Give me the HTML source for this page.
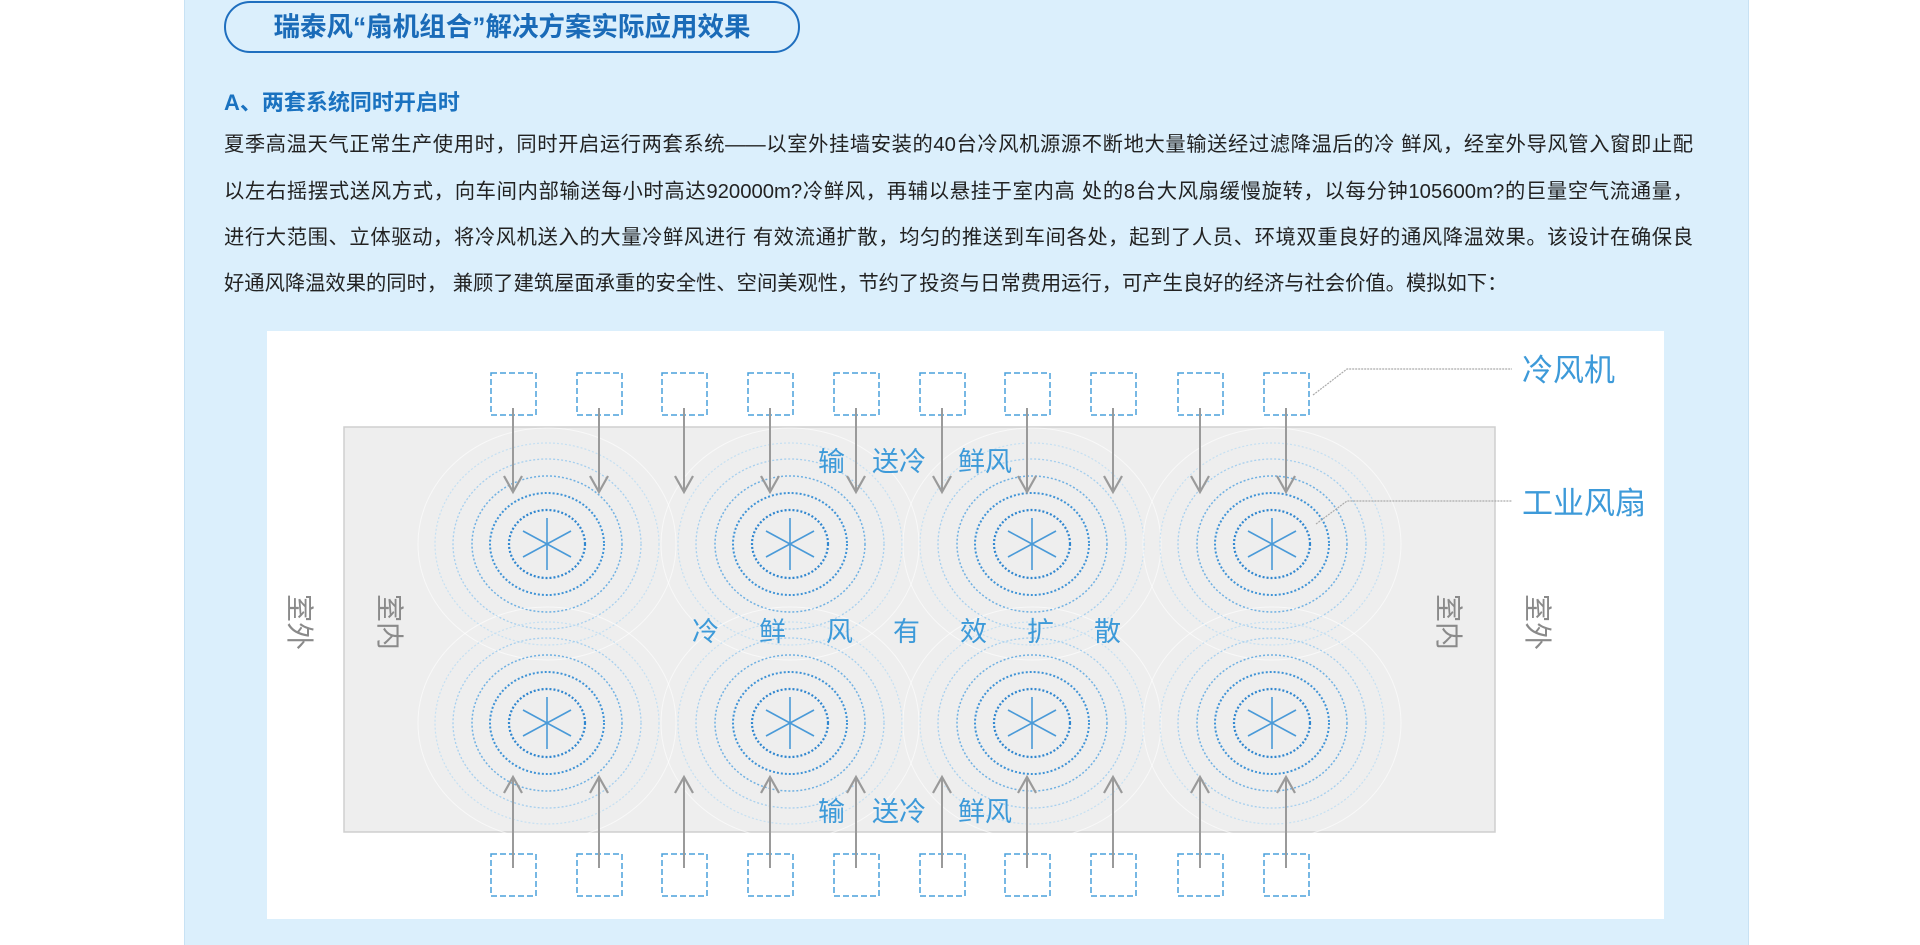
<!DOCTYPE html>
<html><head><meta charset="utf-8">
<style>
html,body{margin:0;padding:0;background:#fff;}
body{width:1920px;height:945px;position:relative;overflow:hidden;font-family:"Liberation Sans","Noto Sans CJK SC",sans-serif;}
.panel{position:absolute;left:184px;top:0;width:1563px;height:945px;background:#dbeffc;border-left:1px solid #c8e2f4;border-right:1px solid #c8e2f4;}
.pill{position:absolute;left:224px;top:1px;width:572px;height:48px;border:2px solid #1f6fbf;border-radius:26px;color:#1a6bb8;font-weight:bold;font-size:26.5px;line-height:48px;text-align:center;}
.h{position:absolute;left:224px;top:85px;color:#1a72c0;font-weight:bold;font-size:22px;}
.p{position:absolute;left:224px;width:1469px;font-size:20.3px;color:#222;white-space:nowrap;text-align:justify;text-align-last:justify;line-height:24px;}
svg{position:absolute;left:0;top:0;}
</style></head><body>
<div class="panel"></div>
<div class="pill">瑞泰风“扇机组合”解决方案实际应用效果</div>
<div class="h">A、两套系统同时开启时</div>
<div class="p" style="top:133px">夏季高温天气正常生产使用时，同时开启运行两套系统——以室外挂墙安装的40台冷风机源源不断地大量输送经过滤降温后的冷 鲜风，经室外导风管入窗即止配</div>
<div class="p" style="top:180px">以左右摇摆式送风方式，向车间内部输送每小时高达920000m?冷鲜风，再辅以悬挂于室内高 处的8台大风扇缓慢旋转，以每分钟105600m?的巨量空气流通量，</div>
<div class="p" style="top:226px">进行大范围、立体驱动，将冷风机送入的大量冷鲜风进行 有效流通扩散，均匀的推送到车间各处，起到了人员、环境双重良好的通风降温效果。该设计在确保良</div>
<div class="p" style="top:272px;width:auto;text-align:left;text-align-last:left">好通风降温效果的同时， 兼顾了建筑屋面承重的安全性、空间美观性，节约了投资与日常费用运行，可产生良好的经济与社会价值。模拟如下：</div>

<svg width="1920" height="945" viewBox="0 0 1920 945">
<defs>
<g id="fan">
  <ellipse rx="129" ry="116" fill="none" stroke="#ffffff" stroke-opacity="0.6" stroke-width="1"/>
  <ellipse rx="112" ry="101" fill="none" stroke="#c6e0f2" stroke-width="1.2" stroke-dasharray="2 2"/>
  <ellipse rx="94" ry="85" fill="none" stroke="#a6cfee" stroke-width="1.3" stroke-dasharray="2 2"/>
  <ellipse rx="75" ry="68" fill="none" stroke="#6fb0e2" stroke-width="1.5" stroke-dasharray="2 2"/>
  <ellipse rx="57" ry="51" fill="none" stroke="#3f93d6" stroke-width="2" stroke-dasharray="2 2"/>
  <ellipse rx="38" ry="34" fill="none" stroke="#2f86cf" stroke-width="2.2" stroke-dasharray="2 2"/>
  <g stroke="#4a9ad8" stroke-width="1.6">
    <line x1="0" y1="-26" x2="0" y2="26"/>
    <line x1="-24" y1="-13" x2="24" y2="13"/>
    <line x1="-24" y1="13" x2="24" y2="-13"/>
  </g>
</g>
<rect id="box" x="-22" y="0" width="45" height="42" fill="none" stroke="#4aa0dc" stroke-width="1.5" stroke-dasharray="6 3"/>
<g id="down"><line x1="0" y1="408" x2="0" y2="490" stroke="#9a9a9a" stroke-width="2"/><polyline points="-9,476 0,492 9,476" fill="none" stroke="#9a9a9a" stroke-width="2.2"/></g>
<g id="up"><line x1="0" y1="868" x2="0" y2="779" stroke="#9a9a9a" stroke-width="2"/><polyline points="-9,793 0,777 9,793" fill="none" stroke="#9a9a9a" stroke-width="2.2"/></g>
</defs>
<rect x="267" y="331" width="1397" height="588" fill="#ffffff"/>
<rect x="344" y="427" width="1151" height="405" fill="#eeeeee" stroke="#cfcfcf" stroke-width="1.5"/>
<g>
<use href="#fan" x="547" y="544"/><use href="#fan" x="790" y="544"/><use href="#fan" x="1032" y="544"/><use href="#fan" x="1272" y="544"/>
<use href="#fan" x="547" y="723"/><use href="#fan" x="790" y="723"/><use href="#fan" x="1032" y="723"/><use href="#fan" x="1272" y="723"/>
</g>
<g>
<use href="#box" x="513" y="373"/><use href="#box" x="599" y="373"/><use href="#box" x="684" y="373"/><use href="#box" x="770" y="373"/><use href="#box" x="856" y="373"/><use href="#box" x="942" y="373"/><use href="#box" x="1027" y="373"/><use href="#box" x="1113" y="373"/><use href="#box" x="1200" y="373"/><use href="#box" x="1286" y="373"/>
<use href="#box" x="513" y="854"/><use href="#box" x="599" y="854"/><use href="#box" x="684" y="854"/><use href="#box" x="770" y="854"/><use href="#box" x="856" y="854"/><use href="#box" x="942" y="854"/><use href="#box" x="1027" y="854"/><use href="#box" x="1113" y="854"/><use href="#box" x="1200" y="854"/><use href="#box" x="1286" y="854"/>
</g>
<g>
<use href="#down" x="513"/><use href="#down" x="599"/><use href="#down" x="684"/><use href="#down" x="770"/><use href="#down" x="856"/><use href="#down" x="942"/><use href="#down" x="1027"/><use href="#down" x="1113"/><use href="#down" x="1200"/><use href="#down" x="1286"/>
<use href="#up" x="513"/><use href="#up" x="599"/><use href="#up" x="684"/><use href="#up" x="770"/><use href="#up" x="856"/><use href="#up" x="942"/><use href="#up" x="1027"/><use href="#up" x="1113"/><use href="#up" x="1200"/><use href="#up" x="1286"/>
</g>
<g font-family="Liberation Sans, Noto Sans CJK SC, sans-serif" font-size="27" fill="#3d9ad9">
<text x="818" y="471">输</text><text x="872" y="471">送冷</text><text x="958" y="471">鲜风</text>
<text x="818" y="821">输</text><text x="872" y="821">送冷</text><text x="958" y="821">鲜风</text>
<text x="692" y="641" letter-spacing="40">冷鲜风有效扩散</text>
<text x="1522" y="381" font-size="31">冷风机</text>
<text x="1522" y="514" font-size="31">工业风扇</text>
</g>
<g font-family="Liberation Sans, Noto Sans CJK SC, sans-serif" font-size="28" fill="#8a8a8a">
<text transform="translate(290,594) rotate(90)">室外</text>
<text transform="translate(380,594) rotate(90)">室内</text>
<text transform="translate(1439,594) rotate(90)">室内</text>
<text transform="translate(1528,594) rotate(90)">室外</text>
</g>
<g fill="none" stroke="#aaaaaa" stroke-width="1.2" stroke-dasharray="2 1">
<polyline points="1313,395 1347,369 1512,369"/>
<polyline points="1316,524 1347,501 1512,501"/>
</g>
</svg>
</body></html>
